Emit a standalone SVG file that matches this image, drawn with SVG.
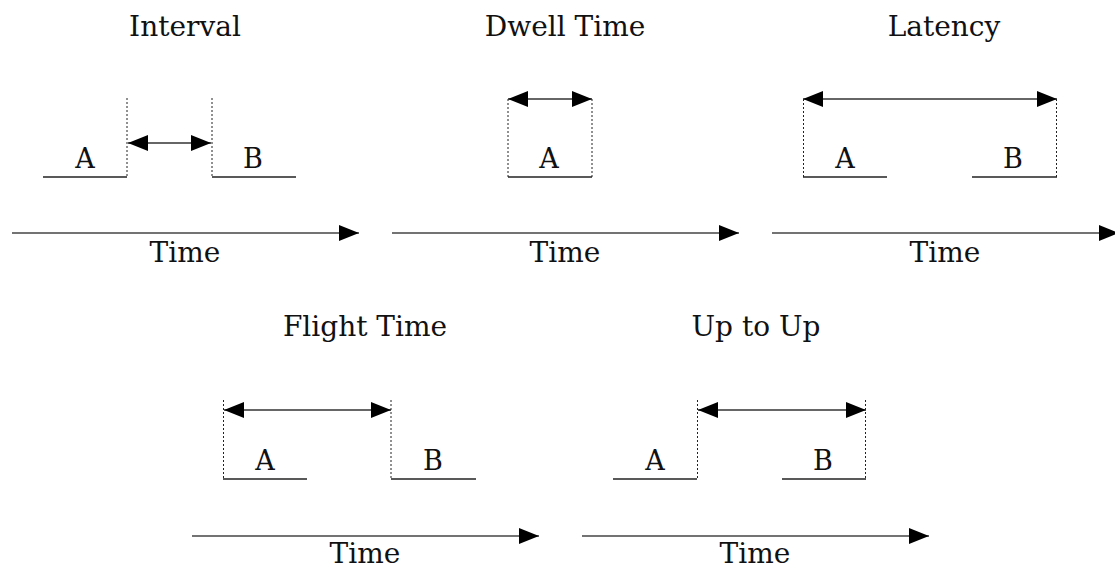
<svg xmlns="http://www.w3.org/2000/svg" width="1115" height="570" viewBox="0 0 1115 570">
<defs>
<marker id="ah" viewBox="0 0 20 16" refX="20" refY="8" markerWidth="20" markerHeight="16" markerUnits="userSpaceOnUse" orient="auto-start-reverse">
<path d="M0,0 L20,8 L0,16 Z" fill="#000"/>
</marker>
<style>
.t{font-family:"DejaVu Serif","Liberation Serif",serif;font-size:28px;fill:#111;text-anchor:middle}
.l{font-family:"DejaVu Serif","Liberation Serif",serif;font-size:27px;fill:#111;text-anchor:middle}
.base{stroke:#222;stroke-width:1.3;fill:none}
.dot{stroke:#222;stroke-width:1;stroke-dasharray:2 2;fill:none}
.ax{stroke:#444;stroke-width:1.5;fill:none;marker-end:url(#ah)}
.dbl{stroke:#333;stroke-width:1.5;fill:none;marker-start:url(#ah);marker-end:url(#ah)}
</style>
</defs>
<rect width="1115" height="570" fill="#fff"/>

<g id="interval">
<text class="t" x="185" y="36">Interval</text>
<line class="base" x1="43" y1="177" x2="127" y2="177"/>
<line class="base" x1="212" y1="177" x2="296" y2="177"/>
<line class="dot" x1="127" y1="98" x2="127" y2="177"/>
<line class="dot" x1="212" y1="98" x2="212" y2="177"/>
<text class="l" x="85" y="168">A</text>
<text class="l" x="253" y="168">B</text>
<text class="t" x="185" y="262">Time</text>
</g>

<g id="dwell">
<text class="t" x="565" y="36">Dwell Time</text>
<line class="base" x1="508" y1="177" x2="592" y2="177"/>
<line class="dot" x1="508" y1="99" x2="508" y2="177"/>
<line class="dot" x1="592" y1="99" x2="592" y2="177"/>
<text class="l" x="549" y="168">A</text>
<text class="t" x="565" y="262">Time</text>
</g>

<g id="latency">
<text class="t" x="944" y="36">Latency</text>
<line class="base" x1="803" y1="177" x2="887" y2="177"/>
<line class="base" x1="972" y1="177" x2="1057" y2="177"/>
<line class="dot" x1="803.5" y1="99" x2="803.5" y2="177"/>
<line class="dot" x1="1056.5" y1="99" x2="1056.5" y2="177"/>
<text class="l" x="845" y="168">A</text>
<text class="l" x="1013" y="168">B</text>
<text class="t" x="945" y="262">Time</text>
</g>

<g id="flight">
<text class="t" x="365" y="336">Flight Time</text>
<line class="base" x1="223" y1="479" x2="307" y2="479"/>
<line class="base" x1="391" y1="479" x2="476" y2="479"/>
<line class="dot" x1="223.5" y1="400" x2="223.5" y2="479"/>
<line class="dot" x1="391" y1="400" x2="391" y2="479"/>
<text class="l" x="265" y="470">A</text>
<text class="l" x="433" y="470">B</text>
<text class="t" x="365" y="563">Time</text>
</g>

<g id="uptoup">
<text class="t" x="756" y="336">Up to Up</text>
<line class="base" x1="613" y1="479" x2="697" y2="479"/>
<line class="base" x1="782" y1="479" x2="866" y2="479"/>
<line class="dot" x1="697.5" y1="400" x2="697.5" y2="479"/>
<line class="dot" x1="865.5" y1="400" x2="865.5" y2="479"/>
<text class="l" x="655" y="470">A</text>
<text class="l" x="823" y="470">B</text>
<text class="t" x="755" y="563">Time</text>
</g>

<g id="connectors">
<line class="dbl" x1="128" y1="143" x2="211" y2="143"/>
<line class="dbl" x1="508" y1="99" x2="592" y2="99"/>
<line class="dbl" x1="803" y1="99" x2="1057" y2="99"/>
<line class="dbl" x1="224" y1="410" x2="391" y2="410"/>
<line class="dbl" x1="698" y1="410" x2="866" y2="410"/>
<line class="ax" x1="12" y1="233" x2="359" y2="233"/>
<line class="ax" x1="392" y1="233" x2="739" y2="233"/>
<line class="ax" x1="772" y1="233" x2="1119" y2="233"/>
<line class="ax" x1="192" y1="536" x2="539" y2="536"/>
<line class="ax" x1="582" y1="536" x2="929" y2="536"/>
</g>
</svg>
